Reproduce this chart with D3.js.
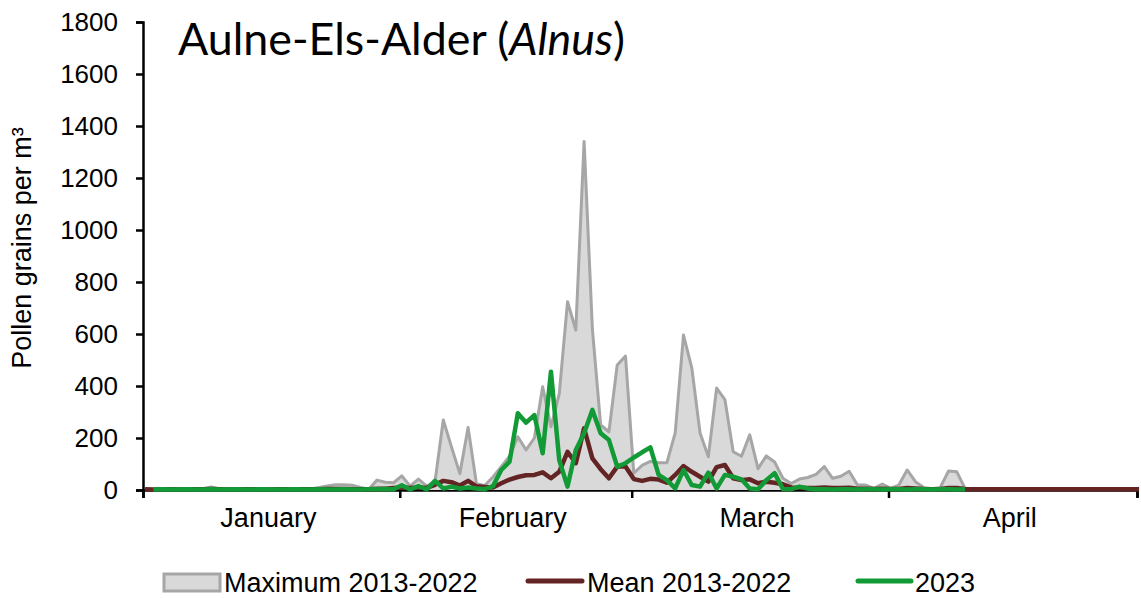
<!DOCTYPE html>
<html>
<head>
<meta charset="utf-8">
<script src="https://cdn.jsdelivr.net/npm/d3@7"></script>
<style>
  html, body { margin: 0; padding: 0; background: #fff; }
  svg { display: block; }
  text { font-family: "Liberation Sans", Arial, sans-serif; fill: #000; }
</style>
</head>
<body>
<svg id="chart" width="1141" height="598"></svg>
<script>
// ---------- DATA ----------
const months = ["January", "February", "March", "April"];
const monthLengths = [31, 28, 31, 30];
const yTicks = [0, 200, 400, 600, 800, 1000, 1200, 1400, 1600, 1800];
const seriesNames = ["Maximum 2013-2022", "Mean 2013-2022", "2023"];

// Daily values, index 0 = 1 January
const maxValues = [
  2, 3, 2, 3, 4, 3, 4, 5, 12, 4,
  3, 3, 2, 3, 4, 3, 5, 4, 3, 2,
  4, 10, 15, 20, 20, 18, 10, 3, 38, 30,
  28, 54, 15, 42, 15, 32, 269, 165, 63, 240,
  25, 17, 50, 90, 130, 205, 154, 200, 397, 243,
  370, 724, 615, 1340, 620, 250, 224, 481, 515, 65,
  95, 110, 105, 105, 220, 596, 470, 219, 128, 392,
  348, 147, 130, 212, 82, 131, 108, 45, 25, 42,
  48, 60, 90, 45, 53, 72, 19, 19, 6, 23,
  6, 19, 77, 32, 10, 5, 10, 73, 70, 5,
  3, 3, 3, 3, 3, 3, 3, 3, 3, 3,
  3, 3, 3, 3, 3, 3, 3, 3, 3, 3
];
const meanValues = [
  3, 2, 2, 3, 2, 2, 3, 3, 4, 3,
  2, 2, 3, 3, 2, 2, 3, 3, 2, 3,
  3, 3, 4, 4, 4, 3, 3, 3, 5, 5,
  8, 10, 8, 10, 8, 20, 35, 30, 17, 35,
  14, 12, 10, 26, 40, 50, 57, 58, 68, 45,
  70, 147, 103, 237, 122, 80, 45, 90, 90, 42,
  35, 43, 40, 28, 58, 92, 70, 51, 32, 88,
  96, 45, 38, 41, 26, 32, 28, 22, 10, 9,
  8, 8, 10, 8, 8, 9, 5, 5, 4, 5,
  4, 4, 8, 6, 4, 3, 4, 8, 8, 4,
  3, 3, 3, 3, 3, 3, 3, 3, 3, 3,
  3, 3, 3, 3, 3, 3, 3, 3, 3, 3, 3
];
const values2023 = [
  null, 2, 3, 2, 2, 3, 2, 2, 3, 2,
  2, 3, 2, 2, 3, 2, 2, 2, 3, 2,
  2, 3, 2, 2, 3, 2, 2, 3, 3, 4,
  3, 18, 2, 15, 2, 35, 6, 13, 6, 10,
  6, 3, 15, 77, 109, 295, 259, 288, 141, 455,
  115, 13, 154, 218, 308, 218, 192, 90, 103, 125,
  145, 164, 58, 38, 6, 77, 19, 13, 67, 6,
  58, 51, 41, 6, 3, 38, 65, 4, 3, 13,
  6, 3, 3, 2, 3, 3, 2, 3, 3, 2,
  3, 3, 2, 3, 3, 2, 3, 3, 2, 3
];

(function () {
// ---------- LAYOUT ----------
const svg = d3.select("#chart");
const pLeft = 143, pRight = 1137, pTop = 22, pBottom = 490;
const totalDays = d3.sum(monthLengths);
const x = d3.scaleLinear().domain([0, totalDays]).range([pLeft, pRight]);
const y = d3.scaleLinear().domain([0, 1800]).range([pBottom, pTop]);
const pos = i => x(i + 0.25);
const fs = 27;

const colMaxFill = "#d9d9d9", colMaxLine = "#a6a6a6";
const colMean = "#632523", colNew = "#119a35";

// Axes (drawn first, data on top)
const yAxis = d3.axisLeft(y).tickValues(yTicks).tickSize(7).tickFormat(d3.format("d"));
const gy = svg.append("g").attr("transform", `translate(${pLeft},0)`).call(yAxis);
gy.select(".domain").attr("stroke", "#000").attr("stroke-width", 2.5);
gy.selectAll(".tick line").attr("stroke", "#000").attr("stroke-width", 2.5);
gy.selectAll(".tick text").attr("font-size", 26).attr("x", -25)
  .attr("font-family", "Liberation Sans, Arial, sans-serif").attr("fill", "#000");

const boundaries = [0];
monthLengths.forEach(l => boundaries.push(boundaries[boundaries.length - 1] + l));
const xAxis = d3.axisBottom(x).tickValues(boundaries).tickSize(8).tickFormat("");
const gx = svg.append("g").attr("transform", `translate(0,${pBottom})`).call(xAxis);
gx.select(".domain").attr("stroke", "#000").attr("stroke-width", 2.5);
gx.selectAll(".tick line").attr("stroke", "#000").attr("stroke-width", 2.5);

svg.append("g").selectAll("text").data(months).join("text")
  .attr("x", (m, i) => x((boundaries[i] + boundaries[i + 1]) / 2) - 3)
  .attr("y", 527)
  .attr("text-anchor", "middle")
  .attr("font-size", fs)
  .text(d => d);

// Maximum area
const area = d3.area()
  .x((d, i) => pos(i))
  .y0(y(0))
  .y1(d => y(d));
svg.append("path").datum(maxValues)
  .attr("d", area).attr("fill", colMaxFill);
svg.append("path").datum(maxValues)
  .attr("d", d3.line().x((d, i) => pos(i)).y(d => y(d)))
  .attr("fill", "none").attr("stroke", colMaxLine).attr("stroke-width", 3)
  .attr("stroke-linejoin", "round");

// Mean line
svg.append("path").datum(meanValues)
  .attr("d", d3.line().x((d, i) => pos(i)).y(d => y(d)))
  .attr("fill", "none").attr("stroke", colMean).attr("stroke-width", 4.5)
  .attr("stroke-linejoin", "round");

// 2023 line
svg.append("path").datum(values2023)
  .attr("d", d3.line().defined(d => d != null).x((d, i) => pos(i)).y(d => y(d)))
  .attr("fill", "none").attr("stroke", colNew).attr("stroke-width", 4.5)
  .attr("stroke-linejoin", "round");

// Title
const title = svg.append("text").attr("x", 178).attr("y", 55)
  .style("font-family", "Lato, 'Open Sans', sans-serif").attr("font-size", 40);
title.append("tspan").text("Aulne-Els-Alder (");
title.append("tspan").attr("font-style", "italic").text("Alnus");
title.append("tspan").text(")");
const tw = title.node().getComputedTextLength();
title.attr("font-size", 40 * 447 / tw);

// Y axis title
svg.append("text")
  .attr("transform", "translate(31,248) rotate(-90)")
  .attr("text-anchor", "middle")
  .attr("font-size", fs)
  .text("Pollen grains per m³");

// Legend
const lg = svg.append("g");
lg.append("rect").attr("x", 164).attr("y", 574).attr("width", 56).attr("height", 17)
  .attr("fill", colMaxFill).attr("stroke", colMaxLine).attr("stroke-width", 3);
lg.append("text").attr("x", 224).attr("y", 592).attr("font-size", fs).text(seriesNames[0]);
lg.append("line").attr("x1", 528).attr("x2", 582).attr("y1", 581).attr("y2", 581)
  .attr("stroke", colMean).attr("stroke-width", 5).attr("stroke-linecap", "round");
lg.append("text").attr("x", 587).attr("y", 592).attr("font-size", fs).text(seriesNames[1]);
lg.append("line").attr("x1", 858).attr("x2", 911).attr("y1", 581).attr("y2", 581)
  .attr("stroke", colNew).attr("stroke-width", 5).attr("stroke-linecap", "round");
lg.append("text").attr("x", 915).attr("y", 592).attr("font-size", fs).text(seriesNames[2]);
})();
</script>
</body>
</html>
